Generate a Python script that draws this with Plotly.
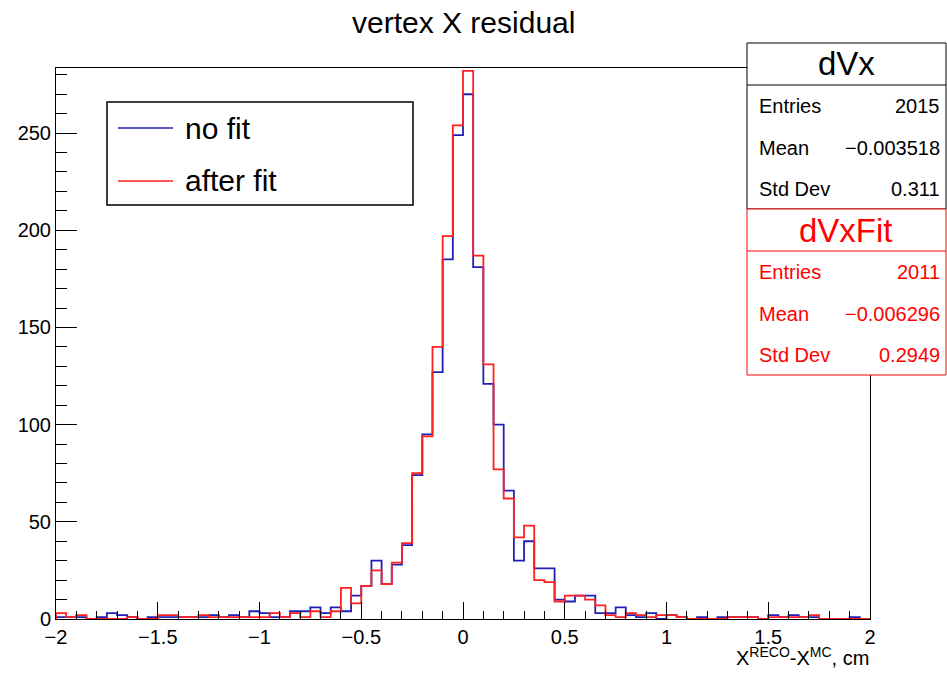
import plotly.graph_objects as go

# ---------------- data ----------------
BIN_LO = -2.0
BIN_W = 0.05
N_BINS = 80

no_fit = [1, 1, 1, 0, 1, 3, 2, 1, 0, 1,
          1, 1, 1, 1, 1, 2, 1, 2, 1, 4,
          3, 1, 1, 4, 4, 6, 3, 6, 4, 12,
          17, 30, 18, 28, 38, 74, 95, 127, 185, 249,
          270, 181, 121, 100, 66, 30, 40, 26, 26, 10,
          9, 12, 12, 3, 3, 6, 2, 1, 3, 0,
          2, 1, 0, 1, 0, 1, 1, 1, 1, 0,
          2, 1, 2, 1, 1, 0, 0, 0, 1, 0]

after_fit = [3, 1, 2, 0, 0, 0, 0, 1, 0, 0,
             2, 2, 1, 1, 2, 1, 1, 1, 1, 1,
             1, 3, 1, 3, 1, 4, 1, 4, 16, 8,
             17, 25, 18, 29, 39, 75, 94, 140, 197, 254,
             282, 187, 131, 77, 62, 42, 48, 20, 19, 9,
             12, 12, 10, 7, 2, 1, 3, 2, 1, 2,
             2, 1, 0, 0, 0, 0, 1, 1, 1, 0,
             1, 1, 1, 1, 2, 0, 0, 0, 0, 0]

series_names = ["no fit", "after fit"]
stats_names = ["dVx", "dVxFit"]
stats_labels = ["Entries", "Mean", "Std Dev"]
stats_nofit = ["2015", "\u22120.003518", "0.311"]
stats_fit = ["2011", "\u22120.006296", "0.2949"]

Y_MAX = 283.5
X_RANGE = [-2, 2]

BLUE = "#2020b4"
RED = "#ff2020"
FONT = "Liberation Sans, Arial, Helvetica, sans-serif"

# ---------------- figure geometry ----------------
W, H = 947, 674
L, R, T, B = 56, 870, 68, 619


def px(x):
    return (x - L) / (R - L)


def py(y):
    return (B - y) / (B - T)


def step_xy(counts):
    edges = [BIN_LO + BIN_W * i for i in range(N_BINS + 1)]
    xs = [edges[0]] + edges[:N_BINS] + [edges[N_BINS]]
    ys = [0] + list(counts) + [0]
    return xs, ys


fig = go.Figure()
for counts, name, col in [(no_fit, series_names[0], BLUE), (after_fit, series_names[1], RED)]:
    xs, ys = step_xy(counts)
    fig.add_trace(go.Scatter(x=xs, y=ys, mode="lines", name=name,
                             line=dict(color=col, width=1.8, shape="hv"),
                             cliponaxis=True))

axis_common = dict(showline=True, linecolor="black", linewidth=1, mirror=True,
                   ticks="inside", tickcolor="black", tickwidth=1,
                   showgrid=False, zeroline=False,
                   tickfont=dict(family=FONT, size=20, color="black"))

fig.update_xaxes(range=X_RANGE, dtick=0.5, tick0=0, ticklen=17,
                 minor=dict(dtick=0.1, ticks="inside", ticklen=8, tickcolor="black", tickwidth=1),
                 **axis_common)
fig.update_yaxes(range=[0, Y_MAX], dtick=50, tick0=0, ticklen=21,
                 minor=dict(dtick=10, ticks="inside", ticklen=11, tickcolor="black", tickwidth=1),
                 **axis_common)

shapes = []
annotations = []

# title
annotations.append(dict(text="vertex X residual", x=px(463), y=py(22), xref="paper", yref="paper",
                        showarrow=False, xanchor="center", yanchor="middle",
                        font=dict(family=FONT, size=30, color="black")))

# x axis title
annotations.append(dict(text="X<sup>RECO</sup>-X<sup>MC</sup>, cm", x=px(871), y=py(656),
                        xref="paper", yref="paper", showarrow=False,
                        xanchor="right", yanchor="middle",
                        font=dict(family=FONT, size=20, color="black")))

# legend box
shapes.append(dict(type="rect", xref="paper", yref="paper", x0=px(107), x1=px(413),
                   y0=py(102), y1=py(205), line=dict(color="black", width=1.5),
                   fillcolor="white", layer="above"))
for i, (name, col) in enumerate([(series_names[0], BLUE), (series_names[1], RED)]):
    yy = 128 + i * 53
    shapes.append(dict(type="line", xref="paper", yref="paper", x0=px(118), x1=px(173),
                       y0=py(yy), y1=py(yy), line=dict(color=col, width=1.5), layer="above"))
    annotations.append(dict(text=name, x=px(183), y=py(yy), xref="paper", yref="paper",
                            showarrow=False, xanchor="left", yanchor="middle",
                            font=dict(family=FONT, size=30, color="black")))

# stats boxes
for j, (sname, vals, col) in enumerate([(stats_names[0], stats_nofit, "black"),
                                        (stats_names[1], stats_fit, "#ff0000")]):
    top = 43 + j * 166
    bot = top + 166
    shapes.append(dict(type="rect", xref="paper", yref="paper", x0=px(747), x1=px(946),
                       y0=py(top), y1=py(bot), line=dict(color=col, width=1),
                       fillcolor="white", layer="above"))
    shapes.append(dict(type="line", xref="paper", yref="paper", x0=px(747), x1=px(946),
                       y0=py(top + 42), y1=py(top + 42), line=dict(color=col, width=1),
                       layer="above"))
    annotations.append(dict(text=sname, x=px(846), y=py(top + 21), xref="paper", yref="paper",
                            showarrow=False, xanchor="center", yanchor="middle",
                            font=dict(family=FONT, size=33, color=col)))
    for k, (lab, v) in enumerate(zip(stats_labels, vals)):
        yy = top + 63 + k * 41.5
        annotations.append(dict(text=lab, x=px(757), y=py(yy), xref="paper", yref="paper",
                                showarrow=False, xanchor="left", yanchor="middle",
                                font=dict(family=FONT, size=20, color=col)))
        annotations.append(dict(text=v, x=px(942), y=py(yy), xref="paper", yref="paper",
                                showarrow=False, xanchor="right", yanchor="middle",
                                font=dict(family=FONT, size=20, color=col)))

fig.update_layout(width=W, height=H,
                  margin=dict(l=L, r=W - R, t=T, b=H - B, pad=0),
                  paper_bgcolor="white", plot_bgcolor="white",
                  showlegend=False, shapes=shapes, annotations=annotations,
                  font=dict(family=FONT, color="black"))

fig.write_html("out.html",
               config={"displayModeBar": False},
               post_script="document.documentElement.style.margin='0';"
                           "document.body.style.margin='0';"
                           "document.body.style.overflow='hidden';")
